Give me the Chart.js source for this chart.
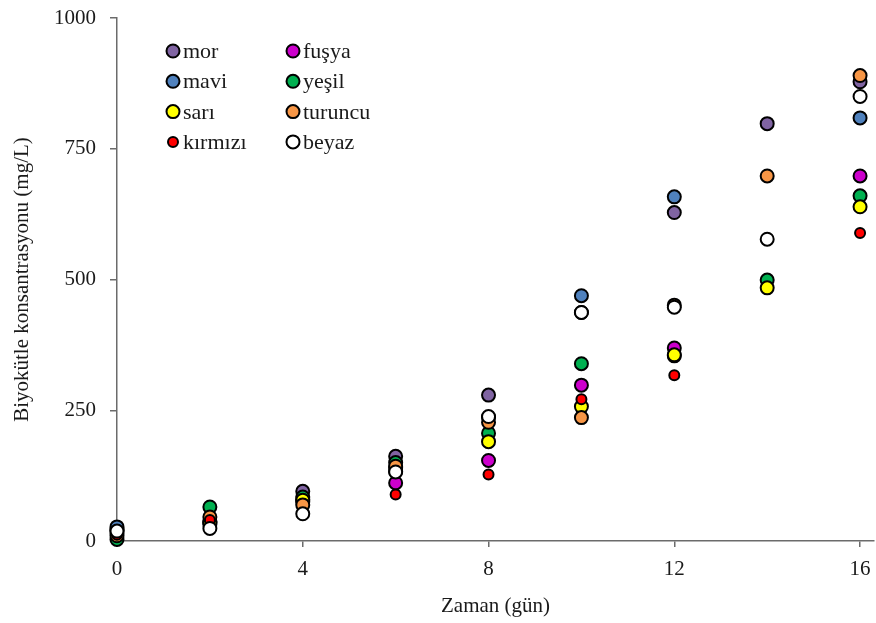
<!DOCTYPE html>
<html>
<head>
<meta charset="utf-8">
<script src="https://cdn.jsdelivr.net/npm/chart.js@4.4.1/dist/chart.umd.min.js"></script>
<style>
  html, body { margin: 0; padding: 0; background: #ffffff; }
  #wrap { width: 876px; height: 623px; }
</style>
</head>
<body>
<div id="wrap"><canvas id="c" width="876" height="623"></canvas></div>
<script>
// Sampling days (x) and biomass concentration per culture (mg/L)
const days = [0, 2, 4, 6, 8, 10, 12, 14, 16];

const mor     = [22, 36, 95, 162, 279, 437, 628, 798, 878];
const fusya   = [20, 32, 75, 111, 154, 298, 369, null, 698];
const mavi    = [27, 38, 80, 140, 236, 469, 658, null, 809];
const yesil   = [3, 65, 84, 150, 206, 339, 354, 499, 660];
const sari    = [15, 35, 78, 133, 190, 257, 356, 484, 639];
const turuncu = [10, 46, 69, 143, 227, 236, 451, 698, 890];
const kirmizi = [12, 40, 53, 89, 127, 271, 317, null, 589];
const beyaz   = [19, 24, 52, 132, 238, 437, 447, 577, 850];

const seriesNames  = ['mor', 'fuşya', 'mavi', 'yeşil', 'sarı', 'turuncu', 'kırmızı', 'beyaz'];
const seriesValues = [mor, fusya, mavi, yesil, sari, turuncu, kirmizi, beyaz];
const seriesColors = ['#8064A2', '#CC00CC', '#4F81BD', '#00B050', '#FFFF00', '#F79646', '#FF0000', '#FFFFFF'];
const seriesRadius = [6.5, 6.5, 6.5, 6.5, 6.5, 6.5, 5, 6.5];

const xTicks = [0, 4, 8, 12, 16];
const yTicks = [0, 250, 500, 750, 1000];

const xTitle = 'Zaman (gün)';
const yTitle = 'Biyokütle konsantrasyonu (mg/L)';

const FONT = "'Liberation Serif', 'Times New Roman', serif";
const TEXT = '#1a1a1a';
const AXIS = '#6b6b6b';

const datasets = seriesNames.map((name, i) => ({
  label: name,
  data: days.map((d, j) => ({ x: d, y: seriesValues[i][j] })),
  backgroundColor: seriesColors[i],
  borderColor: '#000000',
  borderWidth: 2,
  pointRadius: seriesRadius[i],
  pointHoverRadius: seriesRadius[i],
  showLine: false,
  clip: false,
  // later series are painted over earlier ones
  order: seriesNames.length - i
}));

// Two-column legend drawn inside the plot area
const insideLegend = {
  id: 'insideLegend',
  afterDatasetsDraw(chart) {
    const ctx = chart.ctx;
    const colX = [173, 293];
    const rowY0 = 51, rowStep = 30.3;
    ctx.save();
    ctx.font = '22px ' + FONT;
    ctx.textAlign = 'left';
    ctx.textBaseline = 'alphabetic';
    chart.data.datasets.forEach((ds, i) => {
      const cx = colX[i % 2];
      const cy = rowY0 + Math.floor(i / 2) * rowStep;
      ctx.beginPath();
      ctx.arc(cx, cy, ds.pointRadius, 0, Math.PI * 2);
      ctx.fillStyle = ds.backgroundColor;
      ctx.fill();
      ctx.lineWidth = ds.borderWidth;
      ctx.strokeStyle = ds.borderColor;
      ctx.stroke();
      ctx.fillStyle = TEXT;
      ctx.fillText(ds.label, cx + 10, cy + 7);
    });
    ctx.restore();
  }
};

// keep edge tick labels from pushing the plot area inwards
function noEdgePadding(scale) {
  scale.paddingTop = 0;
  scale.paddingRight = 0;
  scale.paddingBottom = 0;
  scale.paddingLeft = 0;
}

new Chart(document.getElementById('c'), {
  type: 'scatter',
  data: { datasets },
  plugins: [insideLegend],
  options: {
    responsive: false,
    animation: false,
    events: [],
    layout: { autoPadding: false, padding: { left: 0, top: 18, right: 2, bottom: 0 } },
    plugins: {
      legend: { display: false },
      tooltip: { enabled: false },
      title: { display: false }
    },
    scales: {
      x: {
        type: 'linear',
        min: 0,
        max: 16.3,
        afterBuildTicks(scale) { scale.ticks = xTicks.map(v => ({ value: v })); },
        afterFit(scale) { scale.height = 82; noEdgePadding(scale); },
        ticks: {
          font: { family: FONT, size: 21 },
          color: TEXT,
          padding: 10,
          maxRotation: 0,
          callback: v => String(v)
        },
        grid: { display: true, drawOnChartArea: false, drawTicks: true, tickLength: 6, color: AXIS, lineWidth: 1.5 },
        border: { display: true, color: AXIS, width: 1.5 },
        title: {
          display: true,
          text: xTitle,
          font: { family: FONT, size: 21 },
          color: TEXT,
          padding: { top: 0, bottom: 4 }
        }
      },
      y: {
        type: 'linear',
        min: 0,
        max: 1000,
        afterBuildTicks(scale) { scale.ticks = yTicks.map(v => ({ value: v })); },
        afterFit(scale) { scale.width = 117; noEdgePadding(scale); },
        ticks: {
          font: { family: FONT, size: 21 },
          color: TEXT,
          padding: 14,
          callback: v => String(v)
        },
        grid: { display: true, drawOnChartArea: false, drawTicks: true, tickLength: 7, color: AXIS, lineWidth: 1.5 },
        border: { display: true, color: AXIS, width: 1.5 },
        title: {
          display: true,
          text: yTitle,
          font: { family: FONT, size: 21 },
          color: TEXT,
          padding: { top: 10, bottom: 0 }
        }
      }
    }
  }
});
</script>
</body>
</html>
